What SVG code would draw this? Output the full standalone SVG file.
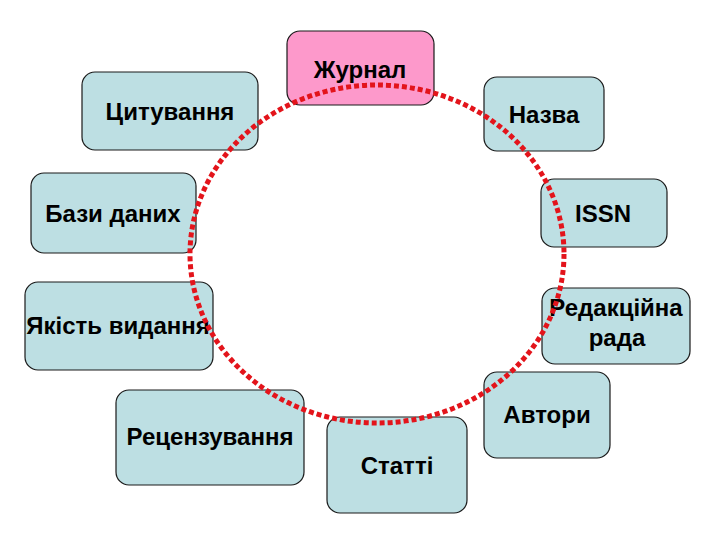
<svg xmlns="http://www.w3.org/2000/svg" width="720" height="540" viewBox="0 0 720 540">
<style>
.box{fill:#bddfe3;stroke:#1a1a1a;stroke-width:1.2}
.pink{fill:#fd99cb;stroke:#1a1a1a;stroke-width:1.2}
text{font-family:"Liberation Sans",Arial,sans-serif;font-size:24px;font-weight:bold;fill:#000;text-anchor:middle}
.ring{fill:none;stroke:#e3141b;stroke-width:5;stroke-dasharray:5 3}
</style>
<rect width="720" height="540" fill="#fff"/>
<g id="zhurnal"><rect class="pink" x="287" y="31" width="147" height="74" rx="13"/><text x="360" y="78">Журнал</text></g>
<g id="tsytuvannia"><rect class="box" x="82" y="72" width="176" height="78" rx="13"/><text x="170" y="120">Цитування</text></g>
<g id="nazva"><rect class="box" x="484" y="77" width="120" height="74" rx="13"/><text x="544" y="123">Назва</text></g>
<g id="bazy"><rect class="box" x="31" y="173" width="165" height="80" rx="13"/><text x="113" y="222">Бази даних</text></g>
<g id="issn"><rect class="box" x="541" y="179" width="126" height="68" rx="13"/><text x="603" y="222">ISSN</text></g>
<g id="yakist"><rect class="box" x="25" y="282" width="188" height="88" rx="13"/><text x="118" y="334">Якість видання</text></g>
<g id="redaktsiina"><rect class="box" x="542" y="288" width="148" height="76" rx="13"/><text x="616" y="316">Редакційна</text><text x="617" y="346">рада</text></g>
<g id="avtory"><rect class="box" x="484" y="372" width="126" height="86" rx="13"/><text x="547" y="423">Автори</text></g>
<g id="retsenzuvannia"><rect class="box" x="116" y="390" width="188" height="95" rx="13"/><text x="210" y="445">Рецензування</text></g>
<g id="statti"><rect class="box" x="327" y="417" width="140" height="96" rx="13"/><text x="397" y="474">Статті</text></g>
<g id="connectors"><ellipse class="ring" cx="377" cy="254" rx="187" ry="169"/></g>
</svg>
